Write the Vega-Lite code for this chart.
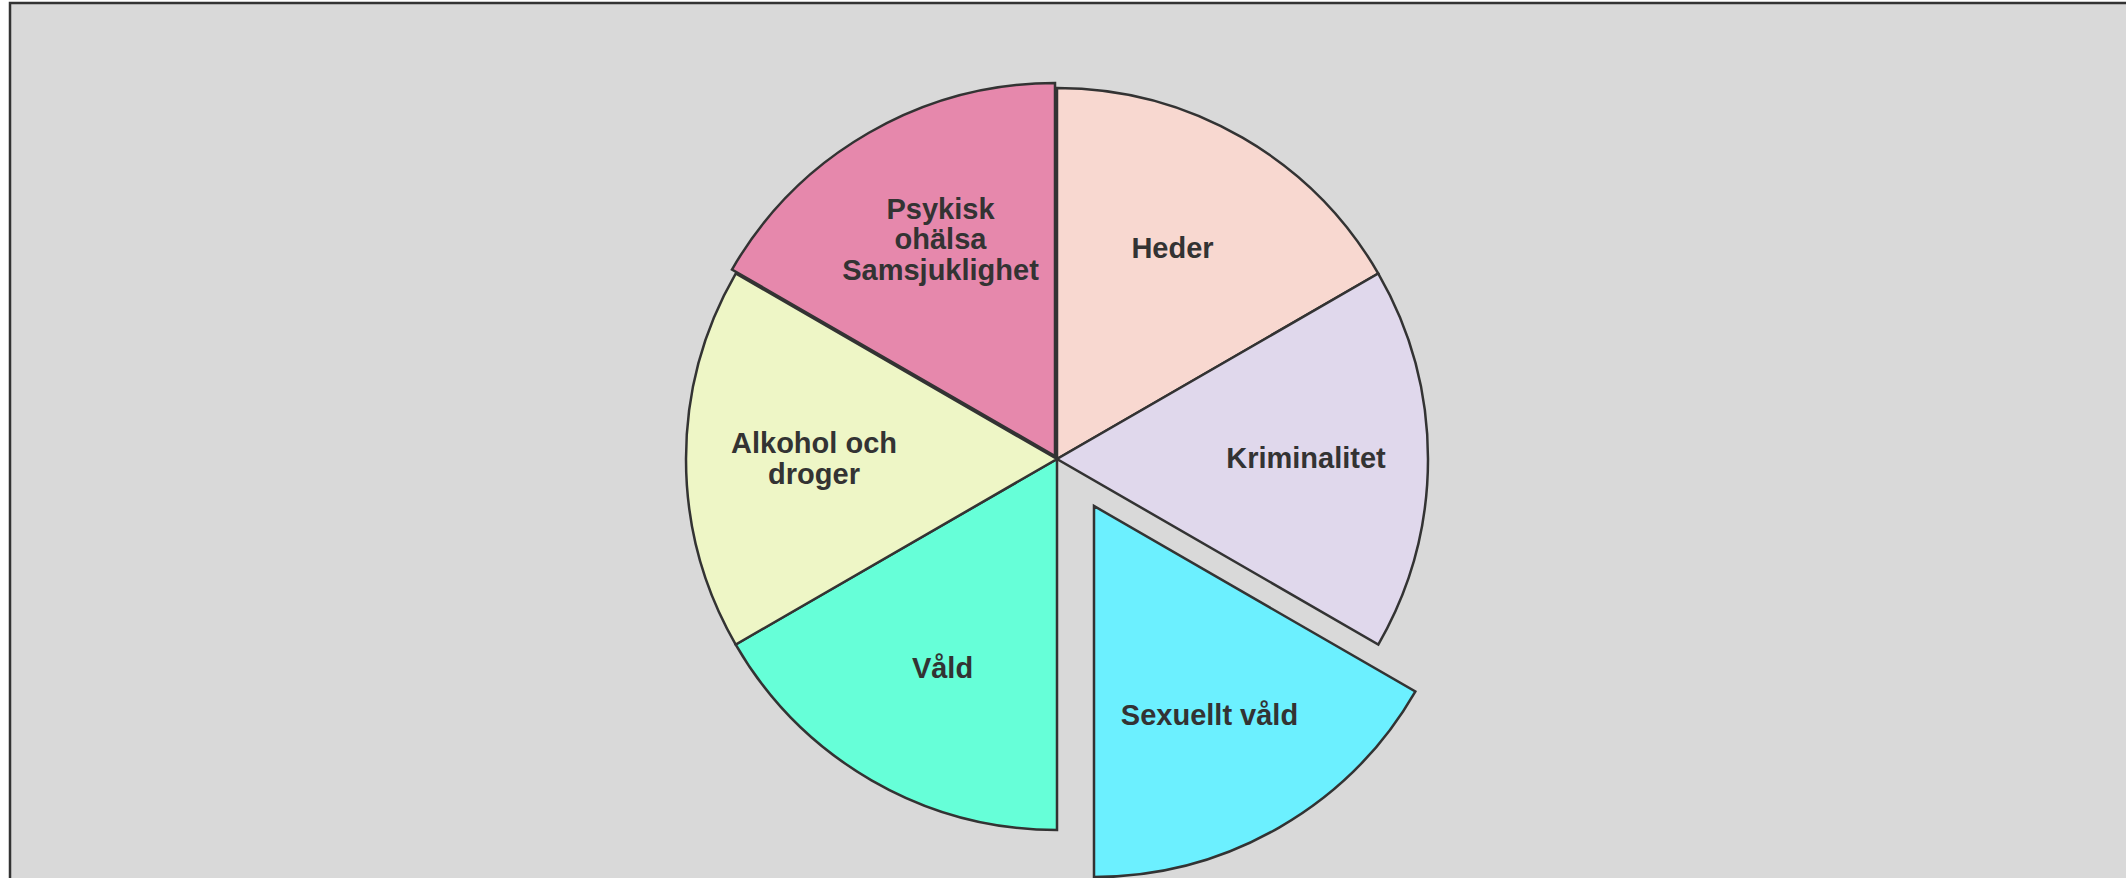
{
  "$schema": "https://vega.github.io/schema/vega-lite/v6.json",
  "width": 2200,
  "height": 900,
  "autosize": {"type": "none"},
  "padding": {"left": 10, "top": 3, "right": 0, "bottom": 0},
  "background": "#ffffff",
  "view": {"fill": "#d9d9d9", "stroke": "#333333", "strokeWidth": 2.5},
  "config": {
    "view": {"fill": "#d9d9d9", "stroke": "#333333", "strokeWidth": 2.5},
    "text": {"lineBreak": "\n", "font": "Liberation Sans", "fontWeight": "bold", "fontSize": 29, "lineHeight": 31, "radius": 243}
  },
  "data": {
    "values": [
      {"kategori": "Heder", "label": "Heder", "ord": 1, "v": 1, "grupp": "bas"},
      {"kategori": "Kriminalitet", "label": "Kriminalitet", "ord": 2, "v": 1, "grupp": "bas"},
      {"kategori": "Sexuellt våld", "label": "Sexuellt våld", "ord": 3, "v": 1, "grupp": "ut1"},
      {"kategori": "Våld", "label": "Våld", "ord": 4, "v": 1, "grupp": "bas"},
      {"kategori": "Alkohol och droger", "label": "Alkohol och\ndroger", "ord": 5, "v": 1, "grupp": "bas"},
      {"kategori": "Psykisk ohälsa Samsjuklighet", "label": "Psykisk\nohälsa\nSamsjuklighet", "ord": 6, "v": 1, "grupp": "ut2"}
    ]
  },
  "encoding": {
    "theta": {"field": "v", "type": "quantitative", "stack": true},
    "order": {"field": "ord", "type": "quantitative"},
    "detail": {"field": "kategori", "type": "nominal"},
    "color": {
      "field": "kategori",
      "type": "nominal",
      "scale": {
        "domain": ["Heder", "Kriminalitet", "Sexuellt våld", "Våld", "Alkohol och droger", "Psykisk ohälsa Samsjuklighet"],
        "range": ["#f8d8d0", "#e0d8ec", "#6cf0ff", "#66ffd8", "#eef6c6", "#e688ac"]
      },
      "legend": null
    }
  },
  "layer": [
    {
      "mark": {"type": "arc", "outerRadius": 371, "stroke": "#333333", "strokeWidth": 2.5, "xOffset": -53, "yOffset": 6},
      "encoding": {"opacity": {"condition": {"test": "datum.grupp === 'bas'", "value": 1}, "value": 0}}
    },
    {
      "mark": {"type": "arc", "outerRadius": 371, "stroke": "#333333", "strokeWidth": 2.5, "xOffset": -16, "yOffset": 53},
      "encoding": {"opacity": {"condition": {"test": "datum.grupp === 'ut1'", "value": 1}, "value": 0}}
    },
    {
      "mark": {"type": "arc", "outerRadius": 373, "stroke": "#333333", "strokeWidth": 2.5, "xOffset": -55, "yOffset": 3},
      "encoding": {"opacity": {"condition": {"test": "datum.grupp === 'ut2'", "value": 1}, "value": 0}}
    },
    {
      "mark": {"type": "text", "xOffset": -53, "yOffset": 6, "dx": -6},
      "encoding": {
        "text": {"field": "label"},
        "color": {"value": "#333333"},
        "opacity": {"condition": {"test": "datum.ord === 1", "value": 1}, "value": 0}
      }
    },
    {
      "mark": {"type": "text", "xOffset": -53, "yOffset": 6, "dx": 6},
      "encoding": {
        "text": {"field": "label"},
        "color": {"value": "#333333"},
        "opacity": {"condition": {"test": "datum.ord === 2", "value": 1}, "value": 0}
      }
    },
    {
      "mark": {"type": "text", "xOffset": -53, "yOffset": 6, "dx": 7},
      "encoding": {
        "text": {"field": "label"},
        "color": {"value": "#333333"},
        "opacity": {"condition": {"test": "datum.ord === 4", "value": 1}, "value": 0}
      }
    },
    {
      "mark": {"type": "text", "xOffset": -53, "yOffset": 6, "dy": -15},
      "encoding": {
        "text": {"field": "label"},
        "color": {"value": "#333333"},
        "opacity": {"condition": {"test": "datum.ord === 5", "value": 1}, "value": 0}
      }
    },
    {
      "mark": {"type": "text", "xOffset": -16, "yOffset": 53, "dx": -6},
      "encoding": {
        "text": {"field": "label"},
        "color": {"value": "#333333"},
        "opacity": {"condition": {"test": "datum.grupp === 'ut1'", "value": 1}, "value": 0}
      }
    },
    {
      "mark": {"type": "text", "lineHeight": 30.5, "xOffset": -55, "yOffset": 3, "dy": -36, "dx": 7},
      "encoding": {
        "text": {"field": "label"},
        "color": {"value": "#333333"},
        "opacity": {"condition": {"test": "datum.grupp === 'ut2'", "value": 1}, "value": 0}
      }
    }
  ]
}
